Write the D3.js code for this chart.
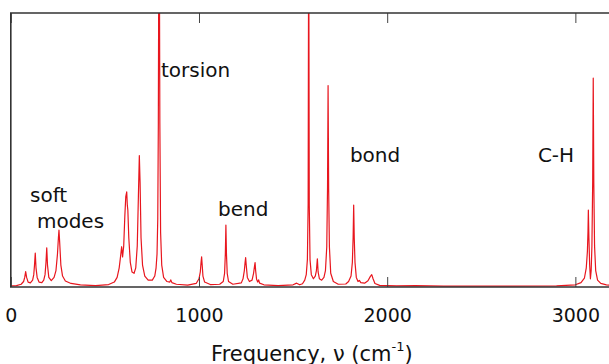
<!DOCTYPE html>
<html><head><meta charset="utf-8">
<script src="https://cdn.jsdelivr.net/npm/d3@7"></script>
<style>
html,body{margin:0;padding:0;background:#fff;overflow:hidden;}
svg{display:block;font-family:"DejaVu Sans",Verdana,sans-serif;}
</style></head>
<body>
<svg id="chart" width="609" height="364"></svg>
<script>
// Spectrum: [frequency (cm^-1), intensity (0..100 = plot height)]
const spectrum = [
[0,0.4],[30,0.5],[55,1.0],[68,2.0],[74,3.5],[79,5.6],[84,3.5],[92,1.8],[104,1.5],[116,2.5],[122,4.5],[126,8],[130,12.4],[134,7],[140,3.5],[150,1.8],[165,1.6],[175,2.5],[182,4.5],[187,9],[191,14.3],[195,8],[202,3.5],[215,2.3],[230,3.5],[240,6],[248,12],[253,18],[256,20.8],[260,16],[266,8],[275,4],[290,2.2],[320,1.3],[370,0.8],[450,0.5],[520,0.9],[550,1.8],[565,3.5],[576,7],[583,11],[589,14.7],[594,11],[600,15],[606,26],[611,33],[616,34.7],[619,30],[622,28],[627,18],[635,9],[644,5.5],[655,5],[664,7],[672,15],[678,33],[683,48],[687,38],[692,18],[700,8],[712,4],[730,2.5],[752,2.5],[765,4],[772,7],[777,12],[781,25],[784,60],[788,160],[792,60],[796,20],[802,8],[812,3.5],[830,2],[845,1.8],[850,2.6],[856,1.6],[880,1],[940,0.7],[985,1.3],[1000,3],[1007,5.5],[1011,9],[1014,11],[1017,8],[1021,4],[1030,1.8],[1060,0.9],[1110,1],[1129,2],[1136,5],[1140,12],[1143,22.6],[1146,12],[1150,5],[1157,2],[1180,1],[1225,1.5],[1234,3],[1241,6],[1245,9],[1248,10.7],[1251,8],[1257,3.5],[1268,2],[1282,2.5],[1290,5],[1295,7.5],[1298,8.9],[1301,6],[1306,2.8],[1312,1.8],[1317,2.6],[1322,1.4],[1345,0.8],[1420,0.5],[1500,0.8],[1519,1.4],[1535,0.8],[1550,1.2],[1562,2.5],[1570,4.5],[1576,10],[1580,30],[1583,140],[1586,30],[1590,10],[1597,4.5],[1608,3],[1618,4],[1624,6],[1629,10.3],[1633,5.5],[1640,3],[1652,2.5],[1664,3.5],[1672,6],[1679,14.7],[1683,36],[1686,73.5],[1689,36],[1693,14.7],[1700,5],[1714,2],[1740,1],[1780,1.1],[1795,2],[1808,4],[1815,9],[1819,18],[1822,29.9],[1825,18],[1829,9],[1836,3.5],[1845,2],[1852,2.4],[1860,1.6],[1880,1.4],[1898,2.3],[1910,3.8],[1918,4.5],[1925,3],[1935,1.3],[1960,0.6],[2050,0.4],[2150,0.5],[2300,0.3],[2600,0.3],[2900,0.4],[3000,0.8],[3030,1.6],[3048,3.2],[3058,7],[3064,13],[3067,20],[3069,28.1],[3072,18],[3076,8],[3080,3.0],[3084,6],[3088,15],[3092,38],[3095,76.2],[3098,38],[3102,15],[3108,6],[3118,2.5],[3135,1.3],[3165,0.8],[3200,0.6]
];
const tickValues = [0, 1000, 2000, 3000];
const tickLabels = ["0", "1000", "2000", "3000"];
const annotationTexts = ["soft", "modes", "torsion", "bend", "bond", "C-H"];
const annotationFreqs = [102, 139, 798, 1101, 1802, 2801];
const annotationLevels = [31.0, 21.5, 76.6, 25.9, 45.6, 45.6];
const xLabel = "Frequency, \u03bd (cm";
const xLabelSup = "-1";

const svg = d3.select("#chart");
const pL = 10.8, pR = 613, pT = 13, pB = 287;
const x = d3.scaleLinear().domain([0, 3200]).range([pL, pR]);
const y = d3.scaleLinear().domain([0, 100]).range([pB, pT]);

svg.append("defs").append("clipPath").attr("id", "clip")
  .append("rect").attr("x", pL).attr("y", pT).attr("width", pR - pL).attr("height", pB - pT);

const line = d3.line().x(d => x(d[0])).y(d => y(d[1])).curve(d3.curveLinear);
svg.append("path").datum(spectrum)
  .attr("clip-path", "url(#clip)")
  .attr("d", line)
  .attr("fill", "none")
  .attr("stroke", "#e8161e")
  .attr("stroke-width", 1.2)
  .attr("stroke-linejoin", "round");

const axB = d3.axisBottom(x).tickValues(tickValues).tickFormat((d, i) => tickLabels[i])
  .tickSizeInner(-10).tickSizeOuter(0).tickPadding(22);
const gB = svg.append("g").attr("transform", `translate(0,${pB})`).call(axB);
gB.select(".domain").remove();
gB.selectAll(".tick line").attr("stroke", "#444");
gB.selectAll(".tick text").attr("font-size", 19).attr("fill", "#111")
  .attr("font-family", '"DejaVu Sans",Verdana,sans-serif');

const axT = d3.axisTop(x).tickValues(tickValues).tickFormat("").tickSizeInner(-10).tickSizeOuter(0);
const gT = svg.append("g").attr("transform", `translate(0,${pT})`).call(axT);
gT.select(".domain").remove();
gT.selectAll(".tick line").attr("stroke", "#444");

svg.append("path")
  .attr("d", `M${pR},${pT}H${pL}V${pB}H${pR}`)
  .attr("fill", "none").attr("stroke", "#333").attr("stroke-width", 1.6);

svg.selectAll("text.ann").data(annotationTexts).enter().append("text")
  .attr("class", "ann")
  .attr("x", (d, i) => x(annotationFreqs[i]))
  .attr("y", (d, i) => y(annotationLevels[i]))
  .attr("font-size", 20).attr("fill", "#111")
  .text(d => d);

const xl = svg.append("text").attr("x", (pL + pR) / 2).attr("y", 361)
  .attr("text-anchor", "middle").attr("font-size", 21).attr("fill", "#111");
xl.append("tspan").text(xLabel);
xl.append("tspan").attr("font-size", 13).attr("dy", -10).text(xLabelSup);
xl.append("tspan").attr("dy", 10).text(")");
</script>
</body></html>
